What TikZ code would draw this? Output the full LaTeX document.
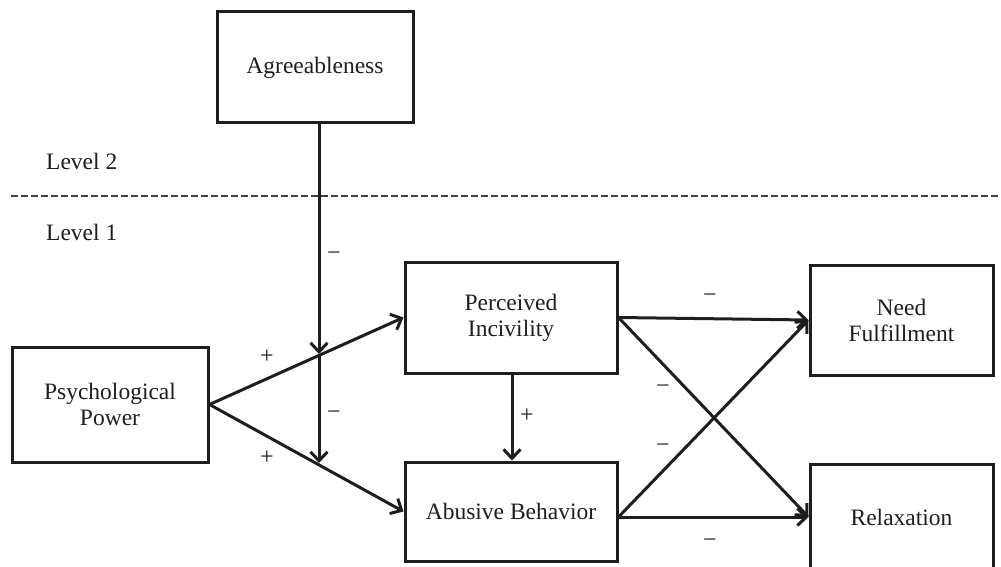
\documentclass[tikz,border=0pt]{standalone}
\usepackage{fontspec}
\setmainfont{Liberation Serif}
\usetikzlibrary{arrows.meta}
\definecolor{ink}{HTML}{1E1E1E}
\begin{document}
\begin{tikzpicture}[x=1pt,y=-1pt,
  box/.style={draw=ink,line width=3pt,inner sep=0pt,align=center,text=ink,font=\fontsize{23.5}{26}\selectfont},
  arr/.style={draw=ink,line width=3pt,-{Straight Barb[length=9pt,width=17pt]}},
  lbl/.style={text=ink,font=\fontsize{24}{26}\selectfont,inner sep=0pt},
  lvl/.style={text=ink,font=\fontsize{23.5}{26}\selectfont,inner sep=0pt,anchor=west}]
\useasboundingbox (0,0) rectangle (1001,567);
\clip (0,0) rectangle (1001,567);

% level separator
\draw[draw=ink!85,line width=2pt,dash pattern=on 7pt off 3pt] (11,196) -- (1001,196);
\node[lvl] (lv2) at (46,161) {Level 2};
\node[lvl] (lv1) at (46,232) {Level 1};

% boxes
\node[box,minimum width=196pt,minimum height=111pt] (AG) at (315,67.5) {Agreeableness};
\node[box,minimum width=196pt,minimum height=115pt] (PP) at (110,404.5) {Psychological\\Power};
\node[box,minimum width=212pt,minimum height=111pt] (PI) at (511,317.5) {Perceived\\Incivility};
\node[box,minimum width=212pt,minimum height=99pt] (AB) at (511,511.5) {Abusive Behavior};
\node[box,minimum width=183pt,minimum height=110pt] (NF) at (901.5,320) {Need\\Fulfillment};
\node[box,minimum width=183pt,minimum height=106pt] (RX) at (901.5,517) {Relaxation};

% moderator points
\coordinate (m1) at (319,354);
\coordinate (m2) at (319,463);
\coordinate (abo) at ([yshift=-5.5pt]AB.east);

% connectors
\draw[arr] (PP.east) -- (PI.west);
\draw[arr] (PP.east) -- (AB.west);
\draw[arr] (m1 |- AG.south) -- (m1);
\draw[arr] (m1) -- (m2);
\draw[arr] (PI.south -| 512,0) -- (AB.north -| 512,0);
\draw[arr] (PI.east) -- (NF.west);
\draw[arr] (PI.east) -- (RX.west);
\draw[arr] (abo) -- (NF.west);
\draw[arr] (abo) -- (RX.west);

% signs
\node[lbl] (s1) at (334,256) {−};
\node[lbl] (s2) at (334,415) {−};
\node[lbl] (s3) at (267,357) {+};
\node[lbl] (s4) at (267,458) {+};
\node[lbl] (s5) at (527,416) {+};
\node[lbl] (s6) at (710,298) {−};
\node[lbl] (s7) at (663,389) {−};
\node[lbl] (s8) at (663,448) {−};
\node[lbl] (s9) at (710,543) {−};
\end{tikzpicture}
\end{document}
